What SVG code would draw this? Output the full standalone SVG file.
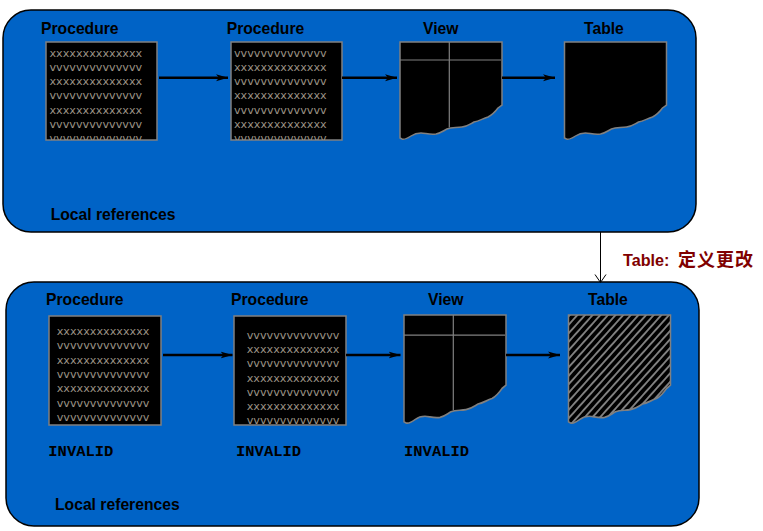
<svg xmlns="http://www.w3.org/2000/svg" width="763" height="531" viewBox="0 0 763 531">
<style>
.panel{fill:#0063C6;stroke:#000;stroke-width:1.5}
.lbl{font-family:"Liberation Sans",Arial,sans-serif;font-weight:bold;font-size:15.7px;fill:#000}
.box{fill:#000;stroke:#808080;stroke-width:1.5}
.code{font-family:"DejaVu Sans",Verdana,sans-serif;font-size:11.2px;fill:#9a9184}
.inv{font-family:"Liberation Mono","Courier New",monospace;font-weight:bold;font-size:15.5px;fill:#000}
.grid{stroke:#808080;stroke-width:1.2;fill:none}
.arr{stroke:#000;stroke-width:2.5;fill:none;marker-end:url(#ah)}
.shape{stroke:#808080;stroke-width:1.5}
</style>
<defs>
<marker id="ah" viewBox="0 0 12 8" refX="12" refY="4" markerWidth="12" markerHeight="8" markerUnits="userSpaceOnUse" orient="auto">
<path d="M0,0.5 L12,4 L0,7.5 L3,4 Z" fill="#000"/>
</marker>
<path id="wavy" d="M0,0 H102 V63 L98,66 C95,70 92,73 88,75 C82,77 79,79 74,80 C70,82 68,84 62,85 C56,86 52,85 47,87 C43,89 41,91 36,92 C30,93 25,91 21,91 C16,91 14,92 11,94 C8,96 5,98 2,97 L0,96 Z"/>
<pattern id="hatch" patternUnits="userSpaceOnUse" width="5.4" height="5.4" patternTransform="rotate(45)">
<rect width="5.4" height="5.4" fill="#000"/>
<rect width="1.8" height="5.4" fill="#808080"/>
</pattern>
<clipPath id="c1"><rect x="46" y="42" width="111" height="98"/></clipPath>
<clipPath id="c2"><rect x="231" y="42" width="111" height="98"/></clipPath>
<clipPath id="c3"><rect x="49" y="316" width="112" height="109"/></clipPath>
<clipPath id="c4"><rect x="234" y="316" width="112" height="109"/></clipPath>
</defs>

<g id="panel-top">
<rect class="panel" x="3" y="10" width="693" height="222" rx="28"/>
<text class="lbl" x="50.7" y="219.5">Local references</text>
</g>
<g id="panel-bottom">
<rect class="panel" x="6" y="282" width="693" height="244" rx="28"/>
<text class="lbl" x="55" y="510">Local references</text>
</g>

<g id="top-proc1">
<text class="lbl" x="41" y="34">Procedure</text>
<rect class="box" x="46" y="42" width="111" height="98"/>
<g class="code" clip-path="url(#c1)">
<text x="49.5" y="56.7">xxxxxxxxxxxxxx</text>
<text x="49.5" y="70.9">vvvvvvvvvvvvvv</text>
<text x="49.5" y="85.1">xxxxxxxxxxxxxx</text>
<text x="49.5" y="99.3">vvvvvvvvvvvvvv</text>
<text x="49.5" y="113.5">xxxxxxxxxxxxxx</text>
<text x="49.5" y="127.7">vvvvvvvvvvvvvv</text>
<text x="49.5" y="141.9">vvvvvvvvvvvvvv</text>
</g>
</g>

<g id="top-proc2">
<text class="lbl" x="226.7" y="34">Procedure</text>
<rect class="box" x="231" y="42" width="111" height="98"/>
<g class="code" clip-path="url(#c2)">
<text x="234" y="56.7">vvvvvvvvvvvvvv</text>
<text x="234" y="70.9">xxxxxxxxxxxxxx</text>
<text x="234" y="85.1">vvvvvvvvvvvvvv</text>
<text x="234" y="99.3">xxxxxxxxxxxxxx</text>
<text x="234" y="113.5">vvvvvvvvvvvvvv</text>
<text x="234" y="127.7">xxxxxxxxxxxxxx</text>
<text x="234" y="141.9">vvvvvvvvvvvvvv</text>
</g>
</g>

<g id="top-view">
<text class="lbl" x="423" y="34">View</text>
<g transform="translate(400,42)">
<use href="#wavy" class="shape" fill="#000"/>
<line class="grid" x1="0" y1="18" x2="101" y2="18"/>
<line class="grid" x1="49.3" y1="0" x2="49.3" y2="85.5"/>
</g>
</g>

<g id="top-table">
<text class="lbl" x="584" y="34">Table</text>
<g transform="translate(564.5,42)">
<use href="#wavy" class="shape" fill="#000"/>
</g>
</g>

<g id="bottom-proc1">
<text class="lbl" x="46" y="305">Procedure</text>
<rect class="box" x="49" y="316" width="112" height="109"/>
<g class="code" clip-path="url(#c3)">
<text x="56.7" y="335">xxxxxxxxxxxxxx</text>
<text x="56.7" y="349.3">vvvvvvvvvvvvvv</text>
<text x="56.7" y="363.6">xxxxxxxxxxxxxx</text>
<text x="56.7" y="377.9">vvvvvvvvvvvvvv</text>
<text x="56.7" y="392.2">xxxxxxxxxxxxxx</text>
<text x="56.7" y="406.5">vvvvvvvvvvvvvv</text>
<text x="56.7" y="420.8">vvvvvvvvvvvvvv</text>
</g>
<text class="inv" x="48.3" y="456">INVALID</text>
</g>

<g id="bottom-proc2">
<text class="lbl" x="231" y="305">Procedure</text>
<rect class="box" x="234" y="316" width="112" height="109"/>
<g class="code" clip-path="url(#c4)">
<text x="246.7" y="339">vvvvvvvvvvvvvv</text>
<text x="246.7" y="353.2">xxxxxxxxxxxxxx</text>
<text x="246.7" y="367.4">vvvvvvvvvvvvvv</text>
<text x="246.7" y="381.6">xxxxxxxxxxxxxx</text>
<text x="246.7" y="395.8">vvvvvvvvvvvvvv</text>
<text x="246.7" y="410">xxxxxxxxxxxxxx</text>
<text x="246.7" y="424.2">vvvvvvvvvvvvvv</text>
</g>
<text class="inv" x="236" y="456">INVALID</text>
</g>

<g id="bottom-view">
<text class="lbl" x="428" y="305">View</text>
<g transform="translate(404,315) scale(1,1.113)">
<use href="#wavy" class="shape" fill="#000" style="vector-effect:non-scaling-stroke"/>
<line class="grid" x1="0" y1="18" x2="101" y2="18" vector-effect="non-scaling-stroke"/>
<line class="grid" x1="49.3" y1="0" x2="49.3" y2="85.5" vector-effect="non-scaling-stroke"/>
</g>
<text class="inv" x="404" y="456">INVALID</text>
</g>

<g id="bottom-table">
<text class="lbl" x="588" y="305">Table</text>
<g transform="translate(568.5,315) scale(1,1.113)">
<use href="#wavy" class="shape" fill="url(#hatch)" style="vector-effect:non-scaling-stroke"/>
</g>
</g>

<g id="connectors">
<line class="arr" x1="159" y1="77.7" x2="228" y2="77.7"/>
<line class="arr" x1="342" y1="77.7" x2="397" y2="77.7"/>
<line class="arr" x1="502" y1="77.7" x2="555" y2="77.7"/>
<line class="arr" x1="163" y1="355" x2="232.5" y2="355"/>
<line class="arr" x1="346" y1="355" x2="400.5" y2="355"/>
<line class="arr" x1="506" y1="355" x2="560" y2="355"/>
<line x1="600.5" y1="232" x2="600.5" y2="282" stroke="#000" stroke-width="1"/>
<polyline points="595,274.5 600.5,282.5 606,274.5" fill="none" stroke="#000" stroke-width="1"/>
<text x="623" y="266" font-family="'Liberation Sans','Noto Sans CJK SC',sans-serif" font-weight="bold" font-size="16.2" fill="#800000">Table: <tspan dx="4" font-family="'Noto Sans CJK SC',sans-serif" font-size="18" letter-spacing="1">定义更改</tspan></text>
</g>
</svg>
